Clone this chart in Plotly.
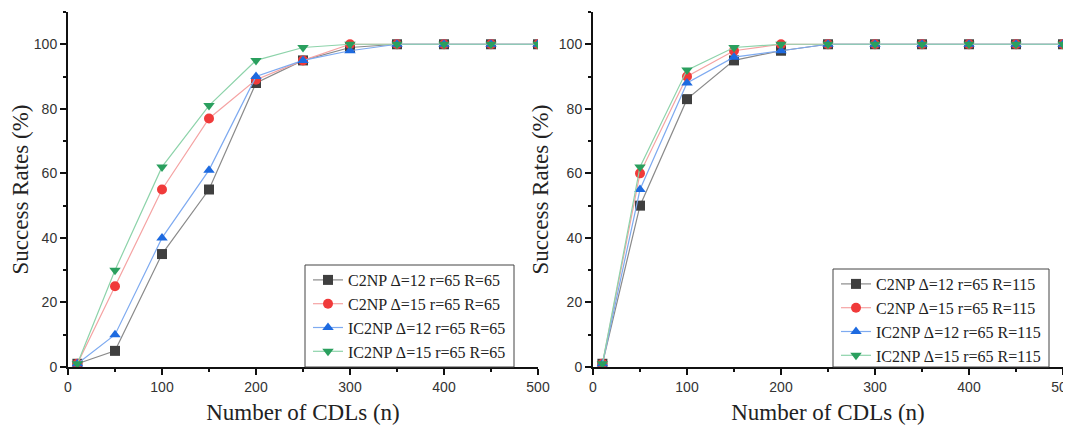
import plotly.graph_objects as go

x_vals = [10, 50, 100, 150, 200, 250, 300, 350, 400, 450, 500]

# Left panel (R=65)
left_c2np_12 = [1, 5, 35, 55, 88, 95, 99, 100, 100, 100, 100]
left_c2np_15 = [1, 25, 55, 77, 89, 95, 100, 100, 100, 100, 100]
left_ic2np_12 = [1, 10, 40, 61, 90, 95, 98, 100, 100, 100, 100]
left_ic2np_15 = [1, 30, 62, 81, 95, 99, 100, 100, 100, 100, 100]

# Right panel (R=115)
right_c2np_12 = [1, 50, 83, 95, 98, 100, 100, 100, 100, 100, 100]
right_c2np_15 = [1, 60, 90, 98, 100, 100, 100, 100, 100, 100, 100]
right_ic2np_12 = [1, 55, 88, 96, 98, 100, 100, 100, 100, 100, 100]
right_ic2np_15 = [1, 62, 92, 99, 100, 100, 100, 100, 100, 100, 100]

left_names = ["C2NP Δ=12 r=65 R=65", "C2NP Δ=15 r=65 R=65",
              "IC2NP Δ=12 r=65 R=65", "IC2NP Δ=15 r=65 R=65"]
right_names = ["C2NP Δ=12 r=65 R=115", "C2NP Δ=15 r=65 R=115",
               "IC2NP Δ=12 r=65 R=115", "IC2NP Δ=15 r=65 R=115"]

marker_colors = ["#3f3f3f", "#f03a3a", "#1d6ae0", "#2a9f5e"]
line_colors = ["#8a8a8a", "#f5a3a3", "#7eaaf0", "#8dd3aa"]
symbols = ["square", "circle", "triangle-up", "triangle-down"]

fig = go.Figure()

left_series = [left_c2np_12, left_c2np_15, left_ic2np_12, left_ic2np_15]
right_series = [right_c2np_12, right_c2np_15, right_ic2np_12, right_ic2np_15]

for i, ys in enumerate(left_series):
    fig.add_trace(go.Scatter(
        x=x_vals, y=ys, mode="lines+markers", name=left_names[i],
        line=dict(color=line_colors[i], width=1.2),
        marker=dict(symbol=symbols[i], color=marker_colors[i], size=10),
        xaxis="x", yaxis="y", legend="legend"))

for i, ys in enumerate(right_series):
    fig.add_trace(go.Scatter(
        x=x_vals, y=ys, mode="lines+markers", name=right_names[i],
        line=dict(color=line_colors[i], width=1.2),
        marker=dict(symbol=symbols[i], color=marker_colors[i], size=10),
        xaxis="x2", yaxis="y2", legend="legend2"))

tickfont = dict(family="Liberation Sans, Arial, sans-serif", size=14, color="#333333")
titlefont = dict(family="Liberation Serif, Times New Roman, serif", size=23, color="#222222")

xaxis_common = dict(
    range=[0, 500], tickmode="array", tickvals=[0, 100, 200, 300, 400, 500],
    showline=True, linecolor="#111111", linewidth=2, mirror=False,
    ticks="outside", ticklen=6, tickwidth=2, tickcolor="#111111",
    minor=dict(ticks="outside", ticklen=3, tickwidth=1.5, tickcolor="#111111", dtick=50, showgrid=False),
    showgrid=False, zeroline=False, tickfont=tickfont, ticklabeloverflow="allow",
    title=dict(text="Number of CDLs (n)", font=titlefont, standoff=10),
)
yaxis_common = dict(
    range=[0, 110], tickmode="array", tickvals=[0, 20, 40, 60, 80, 100],
    showline=True, linecolor="#111111", linewidth=2, mirror=False,
    ticks="outside", ticklen=6, tickwidth=2, tickcolor="#111111",
    minor=dict(ticks="outside", ticklen=3, tickwidth=1.5, tickcolor="#111111", dtick=10, showgrid=False),
    showgrid=False, zeroline=False, tickfont=tickfont,
    title=dict(text="Success Rates (%)", font=titlefont, standoff=4),
)

legend_common = dict(
    bgcolor="rgba(0,0,0,0)", borderwidth=0,
    font=dict(family="Liberation Serif, Times New Roman, serif", size=16, color="#222222"),
    xanchor="left", yanchor="top", tracegroupgap=0, itemsizing="trace",
)

# page has an 8px body margin; the figure is sized to fit inside the window
W, H = 1063, 420
OFF = 8
plot_top, plot_bottom = 12 - OFF, 367 - OFF
plot_h = plot_bottom - plot_top


def px_x(sx):
    return (sx - OFF) / W


def px_y(sy):
    return (plot_bottom - (sy - OFF)) / plot_h


box_style = dict(type="rect", xref="paper", yref="paper", layer="above",
                 line=dict(color="#444444", width=1), fillcolor="rgba(0,0,0,0)")

fig.update_layout(
    width=W, height=H,
    margin=dict(l=0, r=0, t=plot_top, b=H - plot_bottom, autoexpand=False),
    paper_bgcolor="white", plot_bgcolor="white",
    xaxis=dict(domain=[px_x(68), px_x(538)], anchor="y", **xaxis_common),
    yaxis=dict(domain=[0, 1], anchor="x", **yaxis_common),
    xaxis2=dict(domain=[px_x(593), px_x(1063)], anchor="y2", **xaxis_common),
    yaxis2=dict(domain=[0, 1], anchor="x2", **yaxis_common),
    legend=dict(x=px_x(308), y=px_y(263), xref="paper", yref="paper", **legend_common),
    legend2=dict(x=px_x(836), y=px_y(267), xref="paper", yref="paper", **legend_common),
    shapes=[
        dict(x0=px_x(305), x1=px_x(514), y0=px_y(367), y1=px_y(265), **box_style),
        dict(x0=px_x(833), x1=px_x(1049), y0=px_y(367), y1=px_y(269), **box_style),
    ],
    showlegend=True,
)

fig.write_html("out.html")
